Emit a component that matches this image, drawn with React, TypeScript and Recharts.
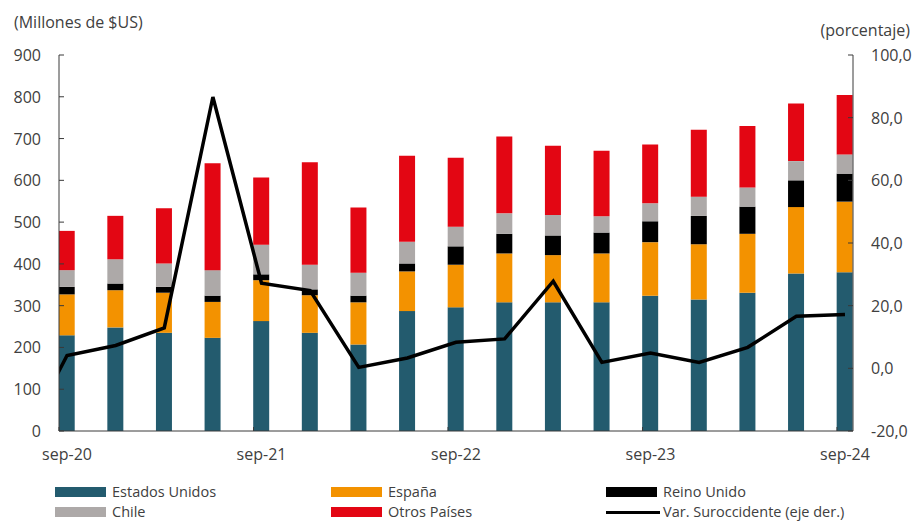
import React from 'react';
import { ComposedChart, Bar, Line, XAxis, YAxis } from 'recharts';

// quarters; jun-20 only feeds the start of the line (clipped at the left axis)
const quarters = ['jun-20', 'sep-20', 'dic-20', 'mar-21', 'jun-21', 'sep-21', 'dic-21', 'mar-22', 'jun-22', 'sep-22', 'dic-22', 'mar-23', 'jun-23', 'sep-23', 'dic-23', 'mar-24', 'jun-24', 'sep-24'];
const estadosUnidos = [null, 229, 248, 235, 223, 263, 235, 207, 287, 296, 308, 308, 308, 324, 315, 331, 377, 380];
const espana = [null, 98, 89, 96, 86, 98, 90, 101, 95, 102, 117, 113, 117, 128, 132, 141, 159, 169];
const reinoUnido = [null, 18, 16, 14, 15, 14, 14, 16, 19, 44, 47, 47, 50, 50, 68, 65, 64, 67];
const chile = [null, 40, 58, 56, 61, 71, 59, 55, 52, 47, 49, 49, 39, 43, 46, 46, 46, 46];
const otrosPaises = [null, 94, 104, 132, 256, 161, 245, 156, 206, 165, 184, 166, 157, 141, 160, 147, 138, 142];
const varSuroccidente = [-26, 4.1, 7.3, 12.9, 86.6, 27.2, 24.8, 0.3, 3.3, 8.3, 9.4, 27.8, 1.9, 4.9, 1.9, 6.7, 16.6, 17.2];

const xTicks = [1, 5, 9, 13, 17];
const leftTicks = [0, 100, 200, 300, 400, 500, 600, 700, 800, 900];
const rightTicks = [-20, 0, 20, 40, 60, 80, 100];

const data = quarters.map((q, i) => ({
  idx: i,
  q,
  eu: estadosUnidos[i],
  es: espana[i],
  ru: reinoUnido[i],
  cl: chile[i],
  ot: otrosPaises[i],
  var: varSuroccidente[i],
}));

const FONT = '"Open Sans", sans-serif';
const TXT = '#404040';
const AXIS = '#3a3a3a';
const BAR_W = 16;

const COLORS = {
  eu: '#235B6E',
  es: '#F39200',
  ru: '#000000',
  cl: '#ADA9A8',
  ot: '#E30613',
};

const LeftTick = (props: any) => {
  const { x, y, payload } = props;
  return (
    <g>
      <line x1={x + 18} x2={x + 23} y1={y} y2={y} stroke={AXIS} strokeWidth={1} />
      <text x={x} y={y} textAnchor="end" dominantBaseline="central" fill={TXT} fontSize={16} fontFamily={FONT}>
        {payload.value}
      </text>
    </g>
  );
};

const RightTick = (props: any) => {
  const { x, y, payload } = props;
  return (
    <g>
      <line x1={x - 18} x2={x - 23} y1={y} y2={y} stroke={AXIS} strokeWidth={1} />
      <text x={x} y={y} textAnchor="start" dominantBaseline="central" fill={TXT} fontSize={16} fontFamily={FONT}>
        {Number(payload.value).toFixed(1).replace('.', ',')}
      </text>
    </g>
  );
};

const BottomTick = (props: any) => {
  const { x, y, payload } = props;
  const lx = x - BAR_W / 2;
  return (
    <g>
      <line x1={lx} x2={lx} y1={y} y2={y - 4} stroke={AXIS} strokeWidth={1} />
      <text x={x} y={y + 23} textAnchor="middle" dominantBaseline="central" fill={TXT} fontSize={16} fontFamily={FONT}>
        {quarters[payload.value]}
      </text>
    </g>
  );
};

const legendRows = [
  [
    { label: 'Estados Unidos', color: COLORS.eu, kind: 'box' },
    { label: 'España', color: COLORS.es, kind: 'box' },
    { label: 'Reino Unido', color: COLORS.ru, kind: 'box' },
  ],
  [
    { label: 'Chile', color: COLORS.cl, kind: 'box' },
    { label: 'Otros Países', color: COLORS.ot, kind: 'box' },
    { label: 'Var. Suroccidente (eje der.)', color: '#000', kind: 'line' },
  ],
];
const legendCols = [55, 331, 606];
const legendRowY = [492, 512];

export default function App() {
  return (
    <div style={{ position: 'absolute', left: 0, top: 0, width: 913, height: 524, fontFamily: FONT, color: TXT, background: '#fff', overflow: 'hidden' }}>
      <div style={{ position: 'absolute', left: 14, top: 11, fontSize: 16, lineHeight: '22px', whiteSpace: 'nowrap' }}>
        (Millones de $US)
      </div>
      <div style={{ position: 'absolute', right: 3, top: 19, fontSize: 16, lineHeight: '22px', whiteSpace: 'nowrap' }}>
        (porcentaje)
      </div>
      <ComposedChart width={913} height={524} data={data} margin={{ top: 55, right: 0, bottom: 63, left: 0 }}>
        <XAxis
          dataKey="idx"
          type="number"
          domain={[0.835, 17.165]}
          allowDataOverflow
          ticks={xTicks}
          interval={0}
          height={30}
          tickSize={0}
          tickMargin={0}
          tick={<BottomTick />}
          axisLine={{ stroke: AXIS, strokeWidth: 1 }}
          tickLine={false}
        />
        <YAxis
          yAxisId="left"
          orientation="left"
          domain={[0, 900]}
          ticks={leftTicks}
          interval={0}
          width={59}
          tickSize={0}
          tickMargin={18}
          tick={<LeftTick />}
          axisLine={{ stroke: AXIS, strokeWidth: 1 }}
          tickLine={false}
        />
        <YAxis
          yAxisId="right"
          orientation="right"
          domain={[-20, 100]}
          allowDataOverflow
          ticks={rightTicks}
          interval={0}
          width={60}
          tickSize={0}
          tickMargin={18}
          tick={<RightTick />}
          axisLine={{ stroke: AXIS, strokeWidth: 1 }}
          tickLine={false}
        />
        <Bar yAxisId="left" dataKey="eu" stackId="a" fill={COLORS.eu} barSize={BAR_W} isAnimationActive={false} />
        <Bar yAxisId="left" dataKey="es" stackId="a" fill={COLORS.es} barSize={BAR_W} isAnimationActive={false} />
        <Bar yAxisId="left" dataKey="ru" stackId="a" fill={COLORS.ru} barSize={BAR_W} isAnimationActive={false} />
        <Bar yAxisId="left" dataKey="cl" stackId="a" fill={COLORS.cl} barSize={BAR_W} isAnimationActive={false} />
        <Bar yAxisId="left" dataKey="ot" stackId="a" fill={COLORS.ot} barSize={BAR_W} isAnimationActive={false} />
        <Line
          yAxisId="right"
          dataKey="var"
          type="linear"
          stroke="#000"
          strokeWidth={3.5}
          dot={false}
          isAnimationActive={false}
        />
      </ComposedChart>
      {legendRows.map((row, r) =>
        row.map((item, c) => (
          <div
            key={item.label}
            style={{
              position: 'absolute',
              left: legendCols[c],
              top: legendRowY[r] - 9,
              height: 18,
              lineHeight: '18px',
              display: 'flex',
              alignItems: 'center',
              fontSize: 14.5,
              whiteSpace: 'nowrap',
            }}
          >
            {item.kind === 'box' ? (
              <span style={{ display: 'inline-block', width: 51, height: 10, background: item.color, marginRight: 6 }} />
            ) : (
              <span style={{ display: 'inline-block', width: 54, height: 3, background: item.color, marginRight: 3 }} />
            )}
            <span>{item.label}</span>
          </div>
        ))
      )}
    </div>
  );
}
